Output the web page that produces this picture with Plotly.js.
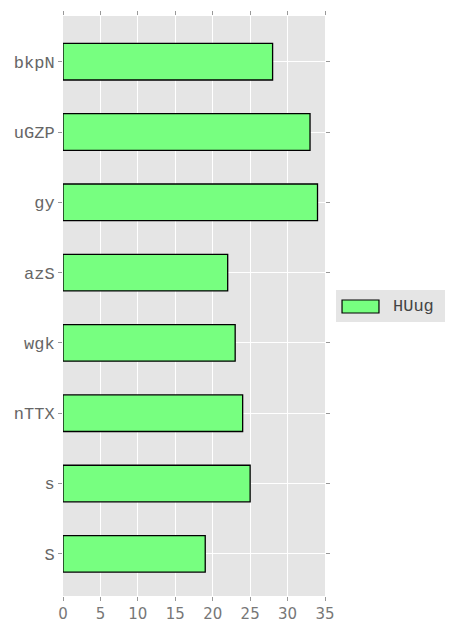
<!DOCTYPE html>
<html><head><meta charset="utf-8">
<script src="https://cdn.plot.ly/plotly-3.0.1.min.js"></script>
<style>html,body{margin:0;padding:0;background:#fff}#c{width:474px;height:632px}</style>
</head><body><div id="c"></div>
<script>
const categories = ["S", "s", "nTTX", "wgk", "azS", "gy", "uGZP", "bkpN"];
const values = [19, 25, 24, 23, 22, 34, 33, 28];
const seriesName = "HUug";
const xTicks = [0, 5, 10, 15, 20, 25, 30, 35];

const trace = {
  type: "bar", orientation: "h",
  y: categories, x: values, name: seriesName,
  width: 0.52,
  marker: {color: "#77ff80", line: {color: "#000", width: 1.3}},
  showlegend: false, hoverinfo: "none"
};
const layout = {
  width: 474, height: 632,
  margin: {l: 63, r: 149, t: 16, b: 36, pad: 0},
  paper_bgcolor: "#fff", plot_bgcolor: "#E5E5E5",
  xaxis: {range: [0, 35], tickvals: xTicks, ticktext: xTicks.map(String),
    showgrid: true, gridcolor: "#fff", gridwidth: 1, zeroline: false,
    ticks: "outside", ticklen: 4, tickcolor: "#999", mirror: "ticks", showline: false,
    tickfont: {family: "DejaVu Sans", size: 15, color: "#777"}},
  yaxis: {type: "category", range: [-0.6, 7.65], categoryorder: "array", categoryarray: categories,
    showgrid: true, gridcolor: "#fff", gridwidth: 1, zeroline: false,
    ticks: "outside", ticklen: 4, tickcolor: "#999", mirror: "ticks", showline: false,
    tickfont: {family: "Liberation Mono", size: 17, color: "#666"}},
  shapes: [
    {type: "rect", xref: "paper", yref: "paper", x0: 1.042, x1: 1.458, y0: (596-322)/580, y1: (596-290)/580,
      fillcolor: "#E5E5E5", line: {width: 0}},
    {type: "rect", xref: "paper", yref: "paper", x0: 1.065, x1: 1.206, y0: (596-313)/580, y1: (596-300)/580,
      fillcolor: "#77ff80", line: {color: "#000", width: 1.2}}
  ],
  annotations: [
    {xref: "paper", yref: "paper", x: 1.25, y: (596-306.5)/580, xanchor: "left", yanchor: "middle",
      text: seriesName, showarrow: false, font: {family: "Liberation Mono", size: 17, color: "#444"}}
  ]
};
Plotly.newPlot("c", [trace], layout, {staticPlot: true});
</script></body></html>
